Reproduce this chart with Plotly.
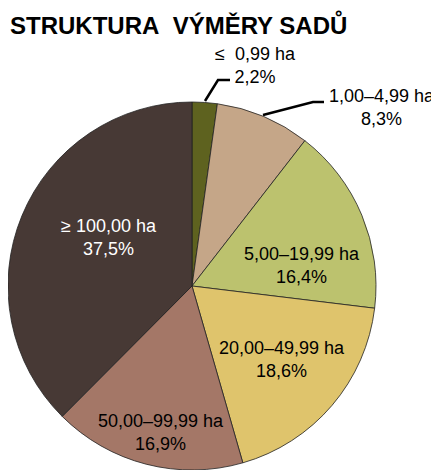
import plotly.graph_objects as go

categories = ["≤\u00a0 0,99 ha", "1,00–4,99 ha", "5,00–19,99 ha", "20,00–49,99 ha", "50,00–99,99 ha", "≥ 100,00 ha"]
values = [2.2, 8.3, 16.4, 18.6, 16.9, 37.5]
pct_labels = ["2,2%", "8,3%", "16,4%", "18,6%", "16,9%", "37,5%"]
colors = ["#5e621f", "#c5a688", "#bcc26e", "#dfc46c", "#a47767", "#473935"]

W, H = 439, 470
OFF = 8  # page body margin
cx, cy, r = 192, 286, 184

FONT = "Liberation Sans, Arial"

def px(x):
    return (x - OFF) / W

def py(y):
    return 1 - (y - OFF) / H

fig = go.Figure(go.Pie(
    values=values,
    labels=categories,
    textinfo="none",
    marker=dict(colors=colors, line=dict(color="#222222", width=0.8)),
    sort=False,
    direction="clockwise",
    rotation=0,
    showlegend=False,
    hoverinfo="label+percent",
    domain=dict(x=[max(0, px(cx - r)), px(cx + r)], y=[py(cy + r), py(cy - r)]),
))

# label anchor positions (pixel) for each category
label_pos = [(255, 65), (382, 108), (302, 265), (282, 359), (161, 432), (109, 238)]
label_colors = ["black", "black", "black", "black", "black", "white"]

annotations = [
    dict(text="<b>STRUKTURA  VÝMĚRY SADŮ</b>".replace("  ", "\u00a0 "), x=px(8), y=py(24),
         xref="paper", yref="paper", xanchor="left", yanchor="middle", showarrow=False,
         font=dict(family=FONT, size=24, color="black")),
]
for cat, pct, (lx, ly), col in zip(categories, pct_labels, label_pos, label_colors):
    annotations.append(dict(
        text=f"{cat}<br>{pct}", x=px(lx), y=py(ly), xref="paper", yref="paper",
        xanchor="center", yanchor="middle", showarrow=False,
        font=dict(family=FONT, size=18, color=col)))

shapes = [
    dict(type="path", xref="paper", yref="paper",
         path=f"M {px(205)},{py(101)} L {px(218)},{py(80)} L {px(230)},{py(80)}",
         line=dict(color="black", width=2.5)),
    dict(type="path", xref="paper", yref="paper",
         path=f"M {px(263)},{py(115)} L {px(313)},{py(102)} L {px(324)},{py(102)}",
         line=dict(color="black", width=2.5)),
]

fig.update_layout(
    width=W, height=H,
    margin=dict(l=0, r=0, t=0, b=0),
    paper_bgcolor="white",
    plot_bgcolor="white",
    annotations=annotations,
    shapes=shapes,
)

fig.write_html("out.html")
